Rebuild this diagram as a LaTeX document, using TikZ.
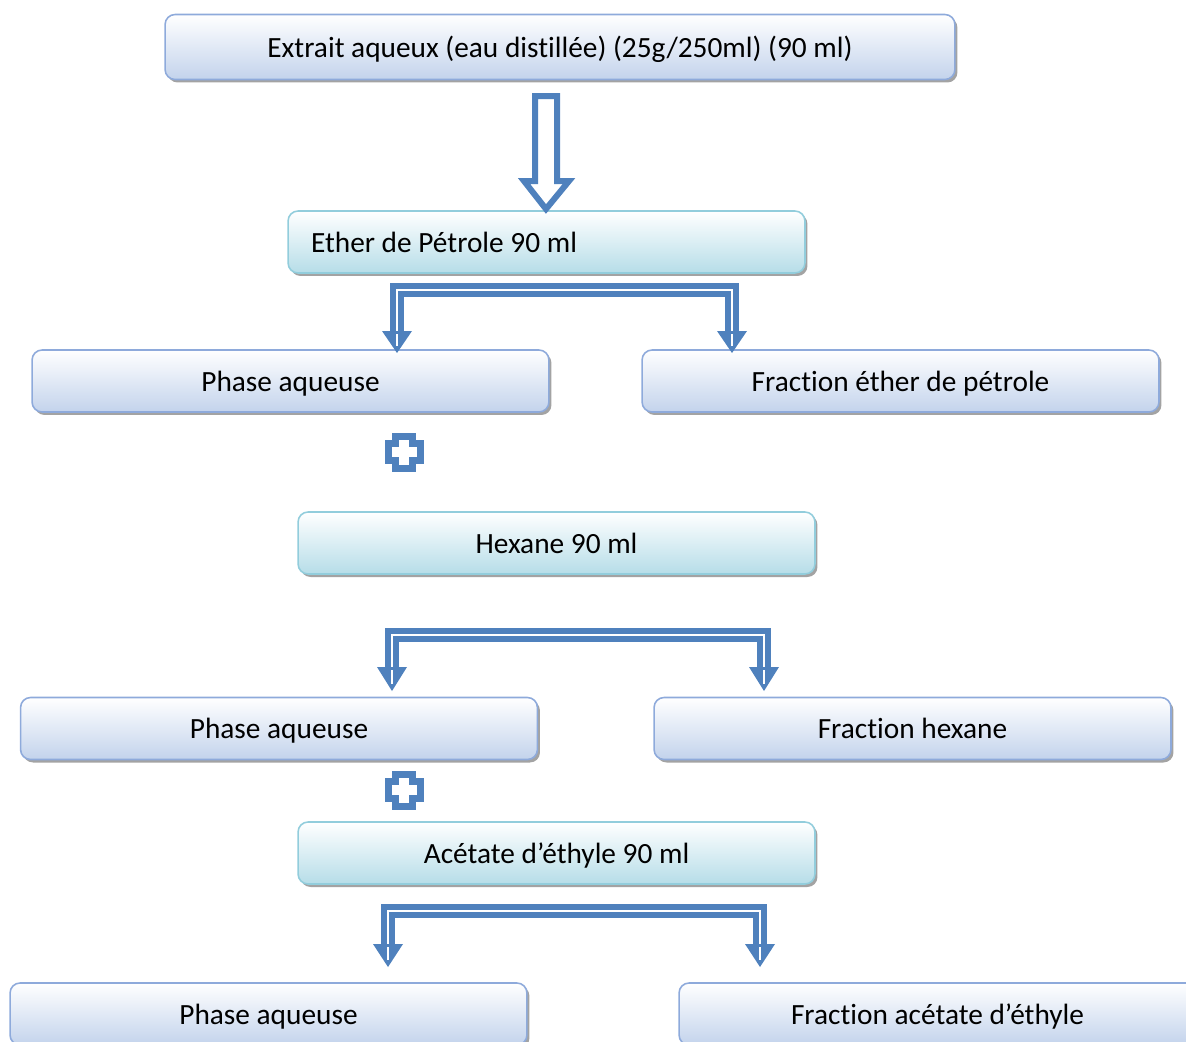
\documentclass[tikz,border=0pt]{standalone}
\usepackage{fontspec}
\setmainfont{Carlito}[Ligatures=NoCommon]
\usetikzlibrary{shadows,positioning}
\definecolor{arrblue}{HTML}{4F81BD}
\definecolor{lav}{HTML}{C3D3EC}
\definecolor{lavline}{HTML}{8EAADB}
\definecolor{aqua}{HTML}{B6DDE8}
\definecolor{aqualine}{HTML}{92CDDC}
\tikzstyle{pbox} = [rectangle, rounded corners=0.2cm, draw=lavline, line width=0.9pt, top color=white, bottom color=lav, minimum width=10.34cm, minimum height=1.24cm, inner sep=0pt, text depth=0pt, drop shadow={shadow xshift=0.05cm, shadow yshift=-0.06cm, fill=black!45, opacity=0.8}, font=\fontsize{16.7}{19}\selectfont]
\tikzstyle{sbox} = [pbox, draw=aqualine, bottom color=aqua]
\tikzstyle{hollow} = [draw=arrblue, fill=white, line width=0.12cm, line join=miter]
\tikzstyle{dbl} = [draw=arrblue, line width=0.13cm, double=white, double distance=0.035cm]
% fork: bar y, left x, right x, head y, tip y
\newcommand{\splitarr}[5]{
  \draw[dbl] (#2,#4+2) -- (#2,#1) -- (#3,#1) -- (#3,#4+2);
  \fill[arrblue] (#2-15,#4) -- (#2+15,#4) -- (#2,#5) -- cycle;
  \fill[arrblue] (#3-15,#4) -- (#3+15,#4) -- (#3,#5) -- cycle;
  \draw[white, line width=0.035cm] (#2,#4+3) -- (#2,#5-7);
  \draw[white, line width=0.035cm] (#3,#4+3) -- (#3,#5-7);
}
\newcommand{\plussign}[1]{
  \draw[hollow, line width=0.14cm] (#1) ++(-8.5,-16) -- ++(17,0) -- ++(0,7.5) -- ++(7.5,0) -- ++(0,17) -- ++(-7.5,0) -- ++(0,7.5) -- ++(-17,0) -- ++(0,-7.5) -- ++(-7.5,0) -- ++(0,-17) -- ++(7.5,0) -- cycle;
}

\begin{document}
\begin{tikzpicture}[x=0.02cm, y=-0.02cm]
	\useasboundingbox (0,0) rectangle (1186,1041);

	% boxes
	\node[pbox, minimum width=15.8cm, minimum height=1.3cm] (ext) at (560,47) {Extrait aqueux (eau distillée) (25g/250ml) (90 ml)};
	\node[sbox, text width=9.42cm, inner xsep=0.46cm, align=flush left] (eth) at (546.5,242) {Ether de Pétrole 90 ml};
	\node[pbox] (pa1) at (290.5,381) {Phase aqueuse};
	\node[pbox] (fe) at (900.5,381) {Fraction éther de pétrole};
	\node[sbox] (hex) at (556.5,543) {Hexane 90 ml};
	\node[pbox] (pa2) at (279,728.5) {Phase aqueuse};
	\node[pbox] (fh) at (912.5,728.5) {Fraction hexane};
	\node[sbox] (ace) at (556.5,853) {Acétate d’éthyle 90 ml};
	\node[pbox] (pa3) at (268.5,1014) {Phase aqueuse};
	\node[pbox] (fa) at (937.5,1014) {Fraction acétate d’éthyle};

	% big arrow
	\coordinate (a0) at (546,96);
	\draw[hollow] (a0) ++(-11,0) -- ++(22,0) -- ++(0,85) -- ++(12,0) -- ++(-23,28) -- ++(-22,-28) -- ++(11,0) -- cycle;

	% forks
	\splitarr{290}{397}{732}{331}{353}
	\splitarr{635}{392}{764}{667}{691}
	\splitarr{911}{388}{760}{944}{967}

	% plus signs
	\coordinate (p1) at (404,452);
	\coordinate (p2) at (404,790);
	\plussign{p1}
	\plussign{p2}
\end{tikzpicture}
\end{document}
